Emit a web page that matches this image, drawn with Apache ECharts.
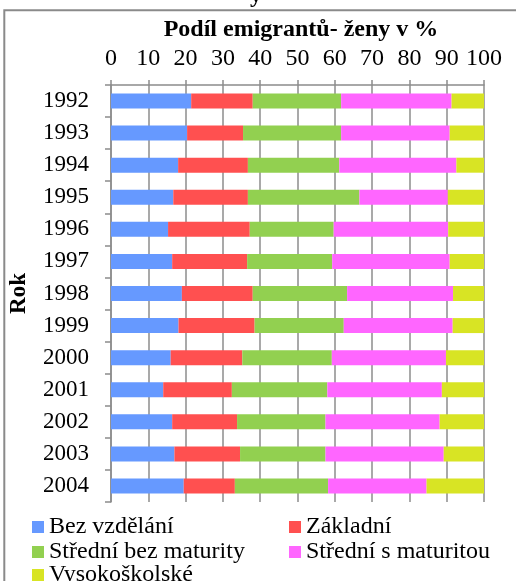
<!DOCTYPE html>
<html>
<head>
<meta charset="utf-8">
<script src="https://cdn.jsdelivr.net/npm/echarts@6/dist/echarts.min.js"></script>
<style>html,body{margin:0;padding:0;background:#fff;}#c{width:516px;height:581px;}</style>
</head>
<body>
<div id="c"></div>
<script>
var years = ['1992','1993','1994','1995','1996','1997','1998','1999','2000','2001','2002','2003','2004'];
var seriesNames = ['Bez vzdělání','Základní','Střední bez maturity','Střední s maturitou','Vysokoškolské'];
var bezVzdelani      = [21.5, 20.4, 18.0, 16.7, 15.3, 16.4, 19.0, 18.1, 16.0, 14.0, 16.4, 17.0, 19.5];
var zakladni         = [16.5, 15.0, 18.7, 20.0, 21.9, 20.1, 19.0, 20.4, 19.2, 18.4, 17.4, 17.6, 13.7];
var stredniBezMat    = [23.7, 26.3, 24.5, 29.9, 22.5, 22.8, 25.3, 23.9, 24.0, 25.6, 23.7, 22.9, 25.0];
var stredniSMat      = [29.6, 29.1, 31.4, 23.7, 30.7, 31.5, 28.4, 29.2, 30.6, 30.7, 30.6, 31.7, 26.4];
var vysokoskolske    = [8.7, 9.2, 7.4, 9.7, 9.6, 9.2, 8.3, 8.4, 10.2, 11.3, 11.9, 10.8, 15.4];
var xTicks = [0,10,20,30,40,50,60,70,80,90,100];

var colors = ['#6699FF','#FF5050','#92D050','#FF66FF','#D8E424'];
var allData = [bezVzdelani, zakladni, stredniBezMat, stredniSMat, vysokoskolske];
var FONT = 'Liberation Serif';

var chart = echarts.init(document.getElementById('c'));
var series = seriesNames.map(function(n, i){
  return {
    name: n, type: 'bar', stack: 'total', barWidth: 15,
    itemStyle: {color: colors[i]},
    data: allData[i]
  };
});
var legendPos = [[32,515],[289,515],[32,540],[289,540],[32,563]];
var legends = seriesNames.map(function(n, i){
  return {
    data: [n], left: legendPos[i][0], top: legendPos[i][1],
    icon: 'rect', itemWidth: 12, itemHeight: 12, itemGap: 5,
    padding: 0,
    textStyle: {fontFamily: FONT, fontSize: 24, color: '#000'}
  };
});
chart.setOption({
  animation: false,
  backgroundColor: '#fff',
  textStyle: {fontFamily: FONT},
  title: {
    text: 'Podíl emigrantů- ženy v %',
    left: 296, textAlign: 'center', top: 13,
    textStyle: {fontFamily: FONT, fontSize: 24, fontWeight: 'bold', color: '#000'}
  },
  legend: legends,
  grid: {left: 107, right: 32, top: 85, bottom: 79, containLabel: false},
  xAxis: {
    type: 'value', position: 'top', min: xTicks[0], max: xTicks[xTicks.length-1], interval: 10,
    axisLine: {show: true, lineStyle: {color: '#8c8c8c', width: 1.5}},
    axisTick: {show: true, length: 5, lineStyle: {color: '#8c8c8c', width: 1.5}},
    splitLine: {show: true, lineStyle: {color: '#8c8c8c', width: 1.5}},
    axisLabel: {fontFamily: FONT, fontSize: 24, color: '#000', margin: 14}
  },
  yAxis: {
    type: 'category', inverse: true, data: years,
    axisLine: {show: true, lineStyle: {color: '#8c8c8c', width: 1.5}},
    axisTick: {show: true, length: 6, lineStyle: {color: '#8c8c8c', width: 1.5}},
    axisLabel: {fontFamily: FONT, fontSize: 23, color: '#000', margin: 22},
    name: 'Rok', nameLocation: 'middle', nameRotate: 90, nameGap: 80,
    nameTextStyle: {fontFamily: FONT, fontSize: 23, fontWeight: 'bold', color: '#000'}
  },
  graphic: [
    {type: 'rect', silent: true, shape: {x: 4.3, y: 10.3, width: 560, height: 620},
     style: {fill: 'none', stroke: '#8a8a8a', lineWidth: 2}},
    {type: 'text', silent: true, x: 256, y: 8,
     style: {text: 'y', fontFamily: FONT, fontSize: 24, fontWeight: 'bold', fill: '#000', align: 'center', verticalAlign: 'bottom'}}
  ],
  series: series
});
</script>
</body>
</html>
